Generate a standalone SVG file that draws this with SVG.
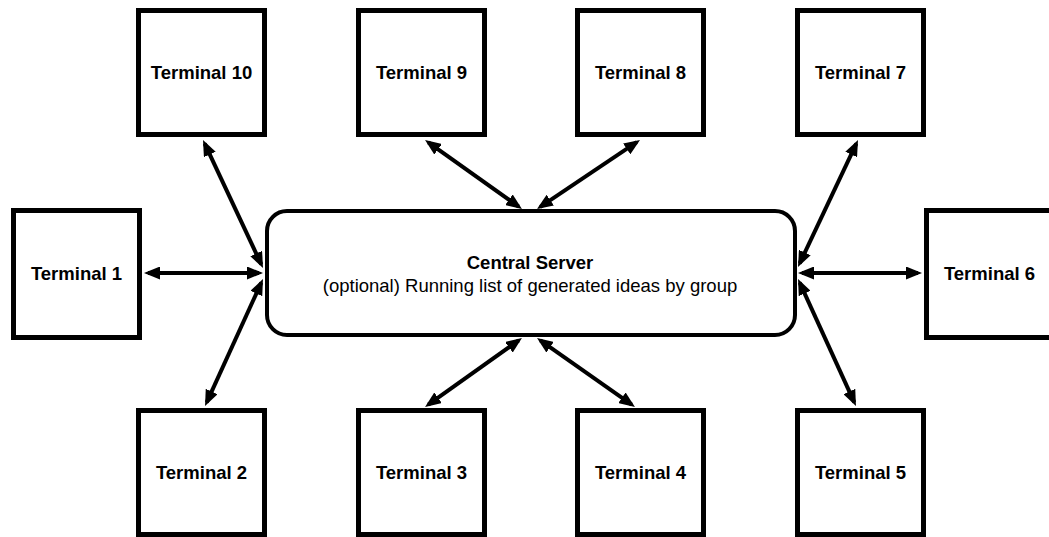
<svg xmlns="http://www.w3.org/2000/svg" width="1049" height="537" viewBox="0 0 1049 537">
  <style>
    .term { fill: #ffffff; stroke: #000000; stroke-width: 5; }
    .server { fill: #ffffff; stroke: #000000; stroke-width: 4; }
    .label { font-family: "Liberation Sans", Arial, sans-serif; font-size: 18.5px; font-weight: bold; fill: #000000; text-anchor: middle; }
    .sub { font-family: "Liberation Sans", Arial, sans-serif; font-size: 18.5px; fill: #000000; text-anchor: middle; }
    .link { fill: none; stroke: #000000; stroke-width: 4; marker-start: url(#head); marker-end: url(#head); }
  </style>
  <defs>
    <marker id="head" viewBox="0 0 16 13" refX="12" refY="6.5" markerWidth="16" markerHeight="13" markerUnits="userSpaceOnUse" orient="auto-start-reverse">
      <path d="M0,0 L16,6.5 L0,13 z" fill="#000000"/>
    </marker>
  </defs>
  <rect width="1049" height="537" fill="#ffffff"/>

  <!-- connectors: double-headed links between each terminal and the server -->
  <g id="connectors">
    <line class="link" x1="204.7" y1="143.6" x2="261.3" y2="264.4"/>
    <line class="link" x1="148" y1="273" x2="259" y2="273"/>
    <line class="link" x1="261.3" y1="282.6" x2="206.7" y2="402.4"/>
    <line class="link" x1="428.3" y1="142.3" x2="518.7" y2="206.7"/>
    <line class="link" x1="636.7" y1="142.2" x2="540.3" y2="206.8"/>
    <line class="link" x1="518.7" y1="340.3" x2="428.3" y2="404.7"/>
    <line class="link" x1="540.3" y1="340.3" x2="631.7" y2="404.7"/>
    <line class="link" x1="856.3" y1="143.6" x2="799.7" y2="263.4"/>
    <line class="link" x1="802" y1="273" x2="918" y2="273"/>
    <line class="link" x1="799.7" y1="282.6" x2="854.3" y2="402.4"/>
  </g>

  <g id="server">
    <rect class="server" x="267" y="211" width="528" height="124" rx="20" ry="20"/>
    <text class="label" x="530" y="269">Central Server</text>
    <text class="sub" x="530" y="292">(optional) Running list of generated ideas by group</text>
  </g>

  <g id="terminal10">
    <rect class="term" x="138.5" y="10.5" width="126" height="124"/>
    <text class="label" x="201.5" y="79">Terminal 10</text>
  </g>
  <g id="terminal9">
    <rect class="term" x="358.5" y="10.5" width="126" height="124"/>
    <text class="label" x="421.5" y="79">Terminal 9</text>
  </g>
  <g id="terminal8">
    <rect class="term" x="577.5" y="10.5" width="126" height="124"/>
    <text class="label" x="640.5" y="79">Terminal 8</text>
  </g>
  <g id="terminal7">
    <rect class="term" x="797.5" y="10.5" width="126" height="124"/>
    <text class="label" x="860.5" y="79">Terminal 7</text>
  </g>

  <g id="terminal1">
    <rect class="term" x="13.5" y="210.5" width="126" height="127"/>
    <text class="label" x="76.5" y="279.5">Terminal 1</text>
  </g>
  <g id="terminal6">
    <rect class="term" x="926.5" y="210.5" width="126" height="127"/>
    <text class="label" x="989.5" y="279.5">Terminal 6</text>
  </g>

  <g id="terminal2">
    <rect class="term" x="138.5" y="410.5" width="126" height="124"/>
    <text class="label" x="201.5" y="478.5">Terminal 2</text>
  </g>
  <g id="terminal3">
    <rect class="term" x="358.5" y="410.5" width="126" height="124"/>
    <text class="label" x="421.5" y="478.5">Terminal 3</text>
  </g>
  <g id="terminal4">
    <rect class="term" x="577.5" y="410.5" width="126" height="124"/>
    <text class="label" x="640.5" y="478.5">Terminal 4</text>
  </g>
  <g id="terminal5">
    <rect class="term" x="797.5" y="410.5" width="126" height="124"/>
    <text class="label" x="860.5" y="478.5">Terminal 5</text>
  </g>
</svg>
